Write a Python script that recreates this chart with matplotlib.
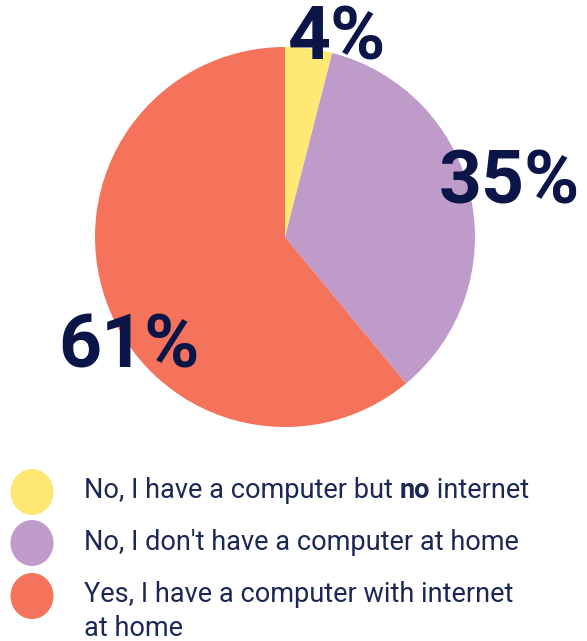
import matplotlib
matplotlib.use("Agg")
from matplotlib import pyplot as plt
from matplotlib.patches import Ellipse

# Data
shares = [4, 35, 61]
slice_colors = ["#FFE873", "#BF9BC9", "#F4735A"]
pct_labels = ["4%", "35%", "61%"]
legend_labels = [
    ["No, I have a computer but ", "no", " internet"],
    ["No, I don't have a computer at home"],
    ["Yes, I have a computer with internet", "at home"],
]

W, H = 587, 641
NAVY = "#0B1547"
TEXT = "#1B2856"

plt.rcParams["font.family"] = ["Roboto", "DejaVu Sans"]

fig = plt.figure(figsize=(W / 100, H / 100), dpi=100)
ax = fig.add_axes([0, 0, 1, 1])


def py(y):
    # pixel row from top -> data y
    return H - y


ax.pie(shares, colors=slice_colors, startangle=90, counterclock=False,
       center=(285, py(237)), radius=190, frame=True,
       wedgeprops=dict(linewidth=0))
ax.set_xlim(0, W)
ax.set_ylim(0, H)
ax.set_aspect("equal")
ax.axis("off")

# Big percentage labels
pct_pos = [(337, 40), (509, 184), (129, 347)]
for lab, (x, y) in zip(pct_labels, pct_pos):
    ax.text(x, py(y), lab, fontsize=54, fontweight="bold", color=NAVY,
            ha="center", va="center")

# Legend
marker_y = [492, 543, 596]
base_y = [498, 550, 602]
fs = 19.5
fig.canvas.draw()
renderer = fig.canvas.get_renderer()
for i, parts in enumerate(legend_labels):
    ax.add_patch(Ellipse((32, py(marker_y[i])), 43, 46,
                         color=slice_colors[i], lw=0))
    if i == 0:
        x = 84
        for j, part in enumerate(parts):
            t = ax.text(x, py(base_y[i]), part, fontsize=fs, color=TEXT,
                        fontweight="bold" if j == 1 else "normal",
                        ha="left", va="baseline")
            x = t.get_window_extent(renderer).x1
    else:
        for k, part in enumerate(parts):
            ax.text(84, py(base_y[i] + 34 * k), part, fontsize=fs, color=TEXT,
                    ha="left", va="baseline")

fig.savefig("out.png", dpi=100)
